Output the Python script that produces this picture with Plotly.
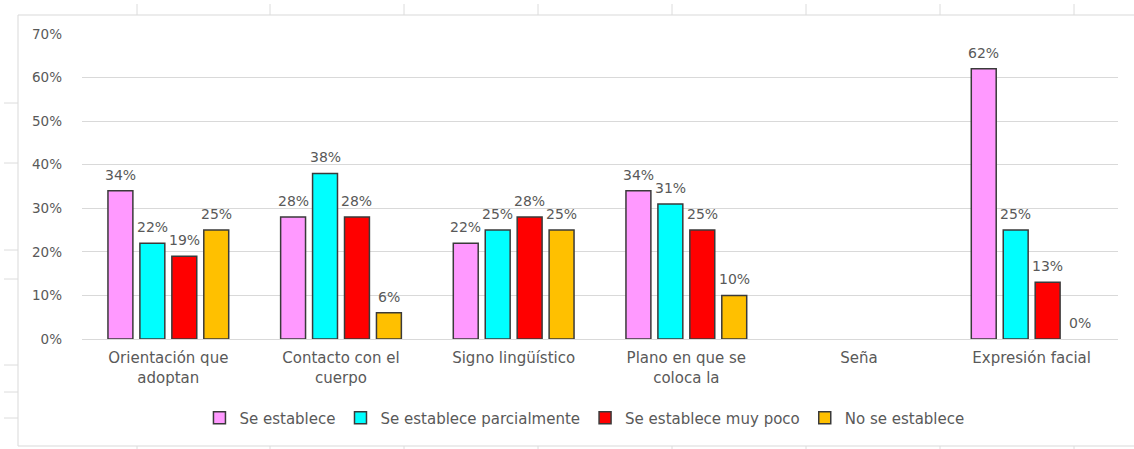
import plotly.graph_objects as go

# ---- data ----
categories = ["Orientación que<br>adoptan", "Contacto con el<br>cuerpo", "Signo lingüístico",
              "Plano en que se<br>coloca la", "Seña", "Expresión facial"]
series_names = ["Se establece", "Se establece parcialmente", "Se establece muy poco", "No se establece"]
se_establece = [0.34, 0.28, 0.22, 0.34, None, 0.62]
parcialmente = [0.22, 0.38, 0.25, 0.31, None, 0.25]
muy_poco = [0.19, 0.28, 0.28, 0.25, None, 0.13]
no_se_establece = [0.25, 0.06, 0.25, 0.10, None, 0.00]
series_values = [se_establece, parcialmente, muy_poco, no_se_establece]
colors = ["#FF99FF", "#00FFFF", "#FF0000", "#FFC000"]

W, H = 1134, 449
L, R, T, B = 82, 16, 34, 110
PW, PH = W - L - R, H - T - B
FONT = "DejaVu Sans"
GRAY = "#595959"
BARGAP = 0.26


def px_x(px):
    return (px - L) / PW


def px_y(py):
    return (H - B - py) / PH


fig = go.Figure()
annotations = []
n_series = len(series_names)
slot_px = PW / len(categories) * (1 - BARGAP) / n_series
for i, (name, vals, col) in enumerate(zip(series_names, series_values, colors)):
    fig.add_trace(go.Bar(
        name=name, x=categories, y=vals,
        marker=dict(color=col, line=dict(color="#3a3a3a",
                                         width=[0 if (v is None or v == 0) else 1.5 for v in vals])),
        cliponaxis=False,
    ))
    for cat, v in zip(categories, vals):
        if v is None:
            continue
        annotations.append(dict(
            x=cat, y=v, xref="x", yref="y", text=f"{v:.0%}", showarrow=False,
            xanchor="center", yanchor="bottom", yshift=6,
            xshift=(i - (n_series - 1) / 2) * slot_px,
            font=dict(family=FONT, size=14, color=GRAY),
        ))

shapes = []
# chart border
shapes.append(dict(type="rect", xref="paper", yref="paper",
                   x0=px_x(18), x1=px_x(1140), y0=px_y(446), y1=px_y(15),
                   line=dict(color="#d9d9d9", width=1), fillcolor="rgba(0,0,0,0)", layer="below"))
# spreadsheet cell lines peeking outside the chart
for xv in [137, 270, 404, 538, 672, 806, 940, 1074]:
    shapes.append(dict(type="line", xref="paper", yref="paper",
                       x0=px_x(xv), x1=px_x(xv), y0=px_y(4), y1=px_y(15),
                       line=dict(color="#dcdcdc", width=1)))
    shapes.append(dict(type="line", xref="paper", yref="paper",
                       x0=px_x(xv), x1=px_x(xv), y0=px_y(446), y1=px_y(452),
                       line=dict(color="#dcdcdc", width=1)))
for yv in [103, 163, 250, 279, 365, 392, 418]:
    shapes.append(dict(type="line", xref="paper", yref="paper",
                       x0=px_x(4), x1=px_x(18), y0=px_y(yv), y1=px_y(yv),
                       line=dict(color="#dcdcdc", width=1)))

fig.update_layout(
    width=W, height=H,
    margin=dict(l=L, r=R, t=T, b=B, autoexpand=False),
    paper_bgcolor="white", plot_bgcolor="white",
    barmode="group", bargap=BARGAP, bargroupgap=0.22,
    font=dict(family=FONT, size=13, color=GRAY),
    showlegend=True,
    legend=dict(orientation="h", x=0.485, xanchor="center", y=px_y(418), yanchor="middle",
                font=dict(family=FONT, size=15, color=GRAY), itemclick=False,
                bgcolor="rgba(0,0,0,0)", traceorder="normal"),
    shapes=shapes,
    annotations=annotations,
    xaxis=dict(showgrid=False, showline=False, ticks="", ticklabelstandoff=8,
               tickfont=dict(family=FONT, size=15, color=GRAY)),
    yaxis=dict(range=[0, 0.7], dtick=0.1, tickformat=".0%", showgrid=True, gridcolor="#d9d9d9",
               gridwidth=1, zeroline=True, zerolinecolor="#d9d9d9", zerolinewidth=1,
               showline=False, ticks="", ticklabelstandoff=19,
               tickfont=dict(family=FONT, size=13.5, color=GRAY)),
)

fig.write_html("out.html", config={"displayModeBar": False},
               post_script="document.body.style.margin='0px';")
